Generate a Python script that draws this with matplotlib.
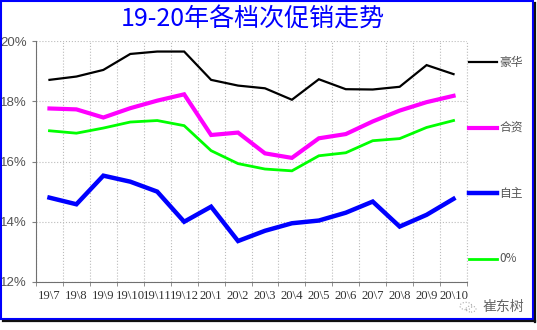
import matplotlib
matplotlib.use("Agg")
import matplotlib.pyplot as plt
from matplotlib.patches import Rectangle, Circle
from matplotlib.lines import Line2D
import numpy as np

plt.rcParams['font.family'] = ['Liberation Serif', 'Noto Sans CJK SC', 'DejaVu Sans']

# data
months = ['19\\7', '19\\8', '19\\9', '19\\10', '19\\11', '19\\12', '20\\1', '20\\2',
          '20\\3', '20\\4', '20\\5', '20\\6', '20\\7', '20\\8', '20\\9', '20\\10']
luxury = [18.71, 18.82, 19.04, 19.57, 19.65, 19.65, 18.71, 18.52,
          18.43, 18.05, 18.73, 18.40, 18.39, 18.48, 19.20, 18.90]
joint = [17.76, 17.73, 17.46, 17.77, 18.02, 18.23, 16.88, 16.96,
         16.27, 16.12, 16.77, 16.91, 17.33, 17.69, 17.97, 18.18]
domestic = [14.80, 14.58, 15.53, 15.33, 15.00, 14.00, 14.50, 13.36,
            13.70, 13.95, 14.04, 14.30, 14.67, 13.84, 14.23, 14.76]
overall = [17.02, 16.94, 17.11, 17.31, 17.36, 17.19, 16.36, 15.93,
           15.75, 15.69, 16.19, 16.29, 16.69, 16.76, 17.13, 17.36]

series = [('豪华', luxury, 'black', 1.6),
          ('合资', joint, '#ff00ff', 3.0),
          ('自主', domestic, '#0000ff', 3.2),
          ('0%', overall, '#00ff00', 2.0)]

W, H = 537, 330
fig = plt.figure(figsize=(W/100, H/100), dpi=100)

# frame with shadow (right / bottom only)
fig.add_artist(Line2D([534.5/W, 534.5/W], [1 - 3/H, 1 - 322/H], color='#111111', lw=1.6))
fig.add_artist(Line2D([3/W, 535/W], [1 - 321/H, 1 - 321/H], color='#111111', lw=1.6))
fig.add_artist(Rectangle((0.8/W, 1 - 319/H), 532/W, 318.2/H, transform=fig.transFigure,
                         fill=False, ec='#0000ff', lw=1.5))

ax = fig.add_axes([36/W, 1-282/H, 431/W, 241/H])

x = np.arange(len(months))
for name, vals, col, lw in series:
    ax.plot(x, vals, color=col, lw=lw, solid_joinstyle='miter')

ax.set_xlim(-0.5, len(months) - 0.5)
ax.set_ylim(12, 20)
ax.set_yticks([12, 14, 16, 18, 20])
ax.set_yticklabels(['%d%%' % v for v in [12, 14, 16, 18, 20]], family='Liberation Sans')
ax.set_xticks(x)
ax.set_xticklabels(months)
ax.set_xticks(np.arange(-0.5, len(months)), minor=True)
ax.tick_params(axis='x', which='major', length=0, pad=6, labelsize=9.2, colors='#333333')
ax.tick_params(axis='x', which='minor', length=3, color='#808080')
ax.tick_params(axis='y', length=3, color='#808080', labelsize=9.5, colors='#555555')
ax.grid(True, axis='y', ls=':', color='#bbbbbb', lw=0.8)
ax.grid(True, axis='x', which='minor', ls=':', color='#bbbbbb', lw=0.8)
for s in ['top', 'right']:
    ax.spines[s].set_visible(False)
for s in ['left', 'bottom']:
    ax.spines[s].set_color('#707070')
ax.plot([1, 1], [0, 1], transform=ax.transAxes, ls=':', color='#bbbbbb', lw=0.8, clip_on=False)

# legend on the right
leg_y = [62, 128, 193, 259]
for (name, vals, col, lw), yy in zip(series, leg_y):
    fy = 1 - yy / H
    fig.add_artist(Line2D([469/W, 497/W], [fy, fy], color=col, lw=lw))
    fig.text(499/W, fy, name, fontsize=8.5, color='#555555', va='center', ha='left',
             family=['Noto Sans CJK SC', 'DejaVu Sans'])

fig.text(253/W, 1 - 20/H, '19-20年各档次促销走势', fontsize=18, color='#0000ff',
         ha='center', va='center', family=['Noto Sans CJK SC', 'DejaVu Sans'])

# watermark
fig.add_artist(Circle((466/W, 1 - 306/H), 6/W, transform=fig.transFigure, fill=False,
                      ec='#aaaaaa', lw=0.8, ls=':'))
fig.add_artist(Circle((471/W, 1 - 309/H), 5/W, transform=fig.transFigure, fill=False,
                      ec='#aaaaaa', lw=0.8, ls=':'))
fig.text(483/W, 1 - 307/H, '崔东树', fontsize=10, color='#666666', ha='left', va='center',
         family=['Noto Sans CJK SC', 'DejaVu Sans'])

fig.savefig('out.png', dpi=100)
